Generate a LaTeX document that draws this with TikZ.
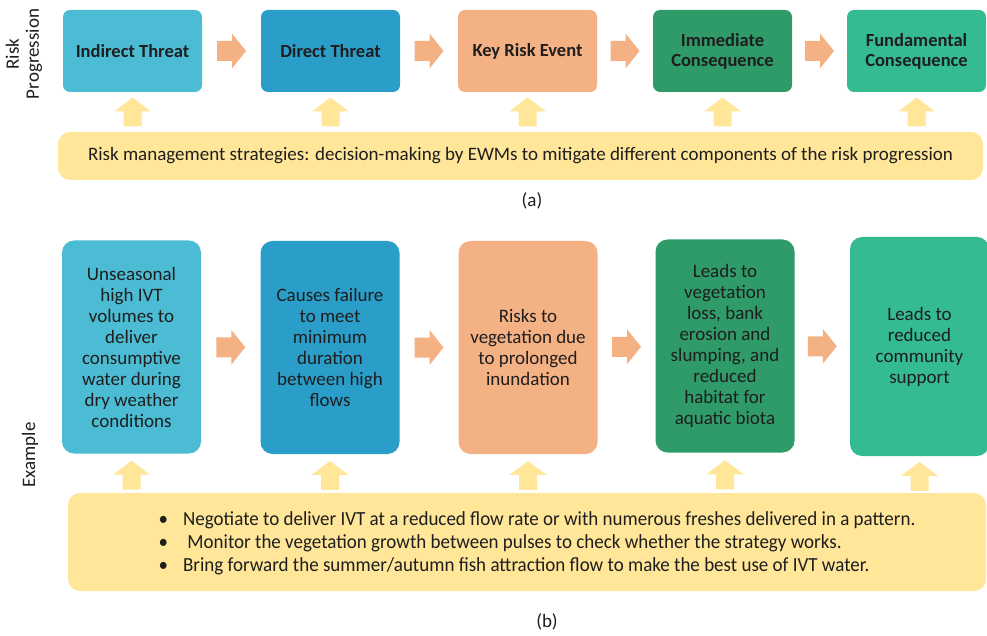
\documentclass[tikz,border=0pt]{standalone}
\usepackage{fontspec}
\setmainfont{Carlito}
\newfontfamily\narrowfont[FakeStretch=0.95]{Carlito}
\usetikzlibrary{calc,positioning}

\definecolor{stageA}{HTML}{4BBCD4}
\definecolor{stageB}{HTML}{2B9DC9}
\definecolor{stageC}{HTML}{F4B183}
\definecolor{stageD}{HTML}{2E9B69}
\definecolor{stageE}{HTML}{34BB92}
\definecolor{mgmt}{HTML}{FFE699}
\definecolor{inktext}{HTML}{1E1E1E}

\tikzset{
  stage/.style={rounded corners=7pt, minimum width=139pt, minimum height=82pt,
    align=center, text=inktext, inner sep=2pt,
    font=\fontsize{18.5}{20}\selectfont\bfseries},
  example/.style={rounded corners=12pt, minimum width=139pt, minimum height=213pt,
    align=center, text=inktext, inner sep=2pt,
    font=\fontsize{19}{21}\selectfont},
  mgmtband/.style={fill=mgmt, rounded corners=12pt, text=inktext},
  sidelabel/.style={rotate=90, align=center, text=inktext,
    font=\fontsize{19}{20}\selectfont},
  caption/.style={text=inktext, font=\fontsize{19}{21}\selectfont},
  flowarrow/.style={fill=stageC},
  mgmtarrow/.style={fill=mgmt}
}

% block arrows, drawn round a named coordinate
\newcommand{\rightblock}[1]{\fill[flowarrow, shift={(#1)}] (-14.5,-10) -- (0.5,-10) -- (0.5,-17.5) -- (14.5,0) -- (0.5,17.5) -- (0.5,10) -- (-14.5,10) -- cycle;}
\newcommand{\upblock}[1]{\fill[mgmtarrow, shift={(#1)}] (-9,14.5) -- (-9,-0.5) -- (-18.5,-0.5) -- (0,-14.5) -- (18.5,-0.5) -- (9,-0.5) -- (9,14.5) -- cycle;}

\begin{document}
\begin{tikzpicture}[x=1pt, y=-1pt]
  \useasboundingbox (0,0) rectangle (987,636);

  % (a) Risk progression
  \node[sidelabel] (riskprog) at (24,54) {Risk\\Progression};
  \foreach \i/\x/\col/\txt in {1/132.5/stageA/{Indirect Threat},
                               2/330.5/stageB/{Direct Threat},
                               3/527.5/stageC/{Key Risk Event},
                               4/722.5/stageD/{Immediate\\Consequence},
                               5/916.5/stageE/{Fundamental\\Consequence}}
    \node[stage, fill=\col] (t\i) at (\x,51) {\txt};
  \node[mgmtband, minimum width=925pt, minimum height=48pt,
        font=\fontsize{19}{21}\selectfont] (topband) at (520.5,156)
    {Risk management strategies: decision-making by EWMs to mitigate different components of the risk progression};
  \node[caption] (capa) at (532,201) {(a)};

  % arrows
  \foreach \i in {1,...,4} {
    \pgfmathtruncatemacro{\j}{\i+1}
    \coordinate (ta\i) at ($(t\i.east)!0.5!(t\j.west)$);
    \rightblock{ta\i}
  }
  \foreach \i in {1,...,5} {
    \coordinate (tu\i) at ($(t\i.south)!0.5!(t\i.south |- topband.north)$);
    \upblock{tu\i}
  }

  % (b) Example
  \node[sidelabel] (exlabel) at (30,455) {Example};
  \node[example, fill=stageA] (b1) at (131.5,347) {Unseasonal\\high IVT\\volumes to\\deliver\\consumptive\\water during\\dry weather\\conditions};
  \node[example, fill=stageB] (b2) at (330,347.5) {Causes failure\\to meet\\minimum\\duration\\between high\\flows};
  \node[example, fill=stageC] (b3) at (528,347.5) {Risks to\\vegetation due\\to prolonged\\inundation};
  \node[example, fill=stageD] (b4) at (725,346) {Leads to\\vegetation\\loss, bank\\erosion and\\slumping, and\\reduced\\habitat for\\aquatic biota};
  \node[example, fill=stageE, minimum height=219pt] (b5) at (919.5,346.5) {Leads to\\reduced\\community\\support};
  \node[mgmtband, minimum width=918pt, minimum height=98pt, align=left,
        font=\narrowfont\fontsize{20}{23}\selectfont] (botband) at (527,542)
    {\raisebox{-7pt}[0pt][0pt]{\begin{tabular}{@{\hspace{20pt}}l@{\hspace{15pt}}l@{}}
       \textbullet & Negotiate to deliver IVT at a reduced flow rate or with numerous freshes delivered in a pattern.\\
       \textbullet & \ Monitor the vegetation growth between pulses to check whether the strategy works.\\
       \textbullet & Bring forward the summer/autumn fish attraction flow to make the best use of IVT water.
     \end{tabular}}};
  \node[caption] (capb) at (547,622) {(b)};

  % arrows
  \foreach \i in {1,...,4} {
    \pgfmathtruncatemacro{\j}{\i+1}
    \coordinate (ba\i) at ($(b\i.east)!0.5!(b\j.west)$);
    \rightblock{ba\i}
  }
  \foreach \i in {1,...,5} {
    \coordinate (bu\i) at ($(b\i.south)!0.55!(b\i.south |- botband.north)$);
    \upblock{bu\i}
  }
\end{tikzpicture}
\end{document}
